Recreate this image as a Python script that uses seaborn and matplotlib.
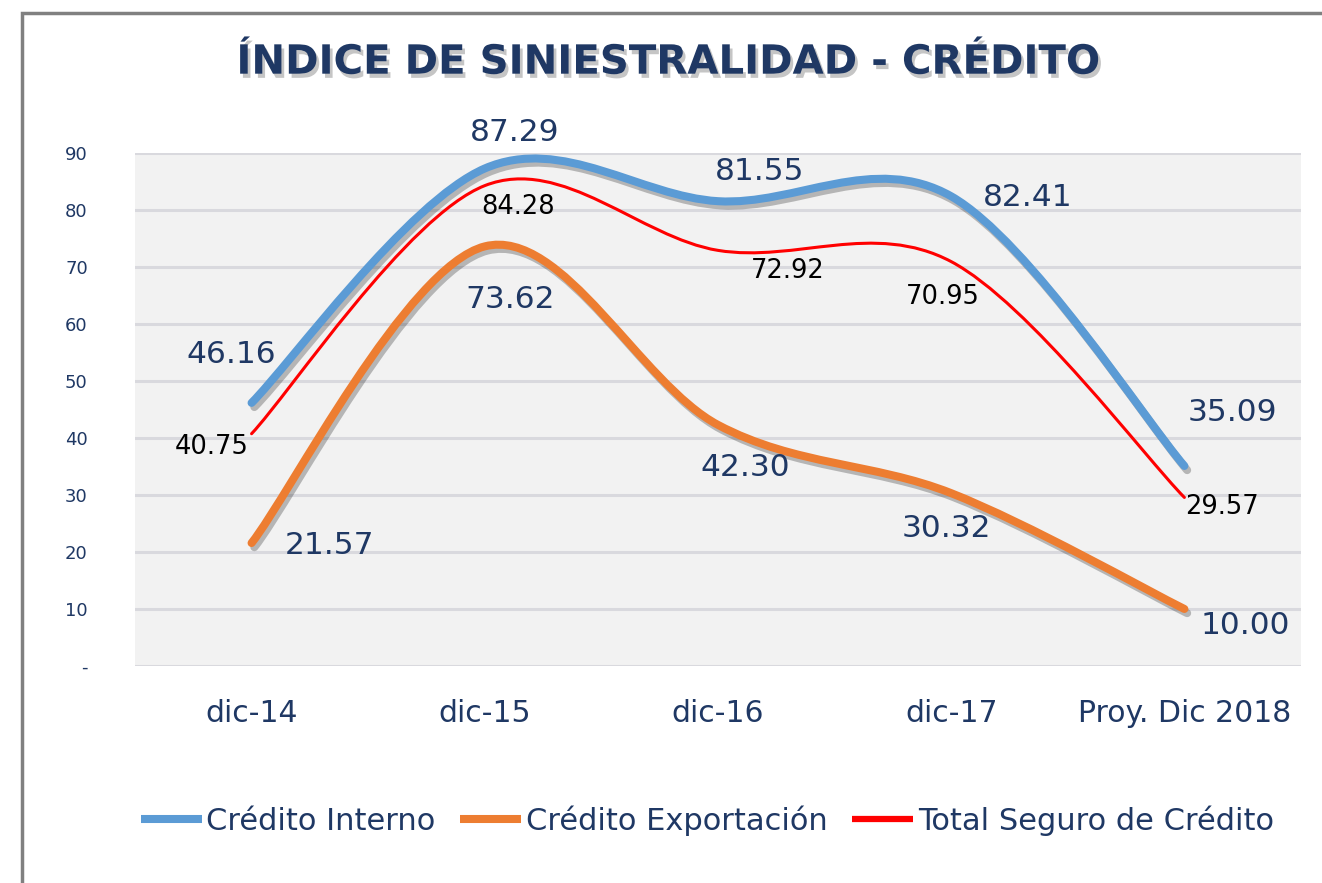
import numpy as np
import pandas as pd
import matplotlib.pyplot as plt
import matplotlib.patheffects as pe
from matplotlib.path import Path
from matplotlib.patches import PathPatch, Rectangle
from matplotlib.lines import Line2D
import seaborn as sns

# data
categorias = ["dic-14", "dic-15", "dic-16", "dic-17", "Proy. Dic 2018"]
credito_interno = [46.16, 87.29, 81.55, 82.41, 35.09]
credito_exportacion = [21.57, 73.62, 42.30, 30.32, 10.00]
total_seguro = [40.75, 84.28, 72.92, 70.95, 29.57]

NAVY = "#1F3864"
series = [
    ("Crédito Interno", credito_interno, "#5B9BD5", 5.8, True, NAVY, 22.5,
     [(-20, 48), (30, 36), (42, 30), (77, -1), (48, 53)]),
    ("Crédito Exportación", credito_exportacion, "#ED7D31", 5.8, True, NAVY, 22.5,
     [(78, -2), (25, -53), (27, -43), (-5, -35), (61, -17)]),
    ("Total Seguro de Crédito", total_seguro, "#FF0000", 2.2, False, "black", 18.5,
     [(-40, -13), (33, -21), (70, -21), (-8, -35), (38, -10)]),
]


def smooth_path(xs, ys):
    """Excel-like smoothed line as cubic Bezier segments."""
    pts = np.column_stack([xs, ys]).astype(float)
    ext = np.vstack([pts[0], pts, pts[-1]])
    verts = [pts[0]]
    codes = [Path.MOVETO]
    for i in range(len(pts) - 1):
        p0, p1, p2, p3 = ext[i], ext[i + 1], ext[i + 2], ext[i + 3]
        verts += [p1 + (p2 - p0) / 6, p2 - (p3 - p1) / 6, p2]
        codes += [Path.CURVE4] * 3
    return Path(verts, codes)


sns.set_theme(style="whitegrid", rc={
    "axes.facecolor": "#F2F2F2",
    "grid.color": "#D9D9DE",
    "grid.linewidth": 2.2,
})
plt.rcParams["font.family"] = ["DejaVu Sans"]

fig = plt.figure(figsize=(13.22, 8.83), dpi=100)
ax = fig.add_axes([0.1021, 0.2458, 0.8820, 0.5809])

x = np.arange(len(categorias))
handles = []
for name, vals, color, lw, shadow, lcolor, fs, offs in series:
    effects = [pe.Normal()]
    if shadow:
        effects = [pe.SimpleLineShadow(offset=(2, -3), shadow_color="black", alpha=0.25), pe.Normal()]
    patch = PathPatch(smooth_path(x, vals), fill=False, edgecolor=color, lw=lw,
                      capstyle="round", joinstyle="round", path_effects=effects, zorder=3)
    ax.add_patch(patch)
    for xi, v, (dx, dy) in zip(x, vals, offs):
        ax.annotate(f"{v:.2f}", (xi, v), xytext=(dx, dy), textcoords="offset pixels",
                    ha="center", va="center", fontsize=fs, color=lcolor, zorder=4)
    handles.append(Line2D([], [], color=color, lw=lw if shadow else 4.5, solid_capstyle="butt"))

ax.set_xlim(-0.5, len(categorias) - 0.5)
ax.set_ylim(0, 90)
ax.set_xticks(x)
ax.set_xticklabels(categorias, fontsize=21.5, color=NAVY)
ax.set_yticks(range(0, 100, 10))
ax.set_yticklabels(["-"] + [str(v) for v in range(10, 100, 10)], fontsize=13, color=NAVY)
ax.tick_params(axis="x", pad=24, length=0)
ax.tick_params(axis="y", pad=34, length=0)
ax.grid(axis="x", visible=False)
ax.set_axisbelow(True)
sns.despine(ax=ax, left=True, bottom=True)

fig.text(0.506, 0.929, "ÍNDICE DE SINIESTRALIDAD - CRÉDITO", ha="center", va="center",
         fontsize=29, fontweight="bold", color=NAVY,
         path_effects=[pe.SimplePatchShadow(offset=(2, -3), shadow_rgbFace="gray", alpha=0.45),
                       pe.Normal()])

fig.legend(handles, [s[0] for s in series], loc="center", bbox_to_anchor=(0.535, 0.071),
           ncol=3, frameon=False, fontsize=22, handlelength=2.0, handletextpad=0.15,
           columnspacing=0.8, labelcolor=NAVY)

# chart area frame
fig.add_artist(Rectangle((22 / 1322, -0.2), 1.2, 1.2 - 13 / 883, transform=fig.transFigure,
                         fill=False, edgecolor="#808080", lw=2.5))

fig.savefig("out.png", dpi=100, facecolor="white")
